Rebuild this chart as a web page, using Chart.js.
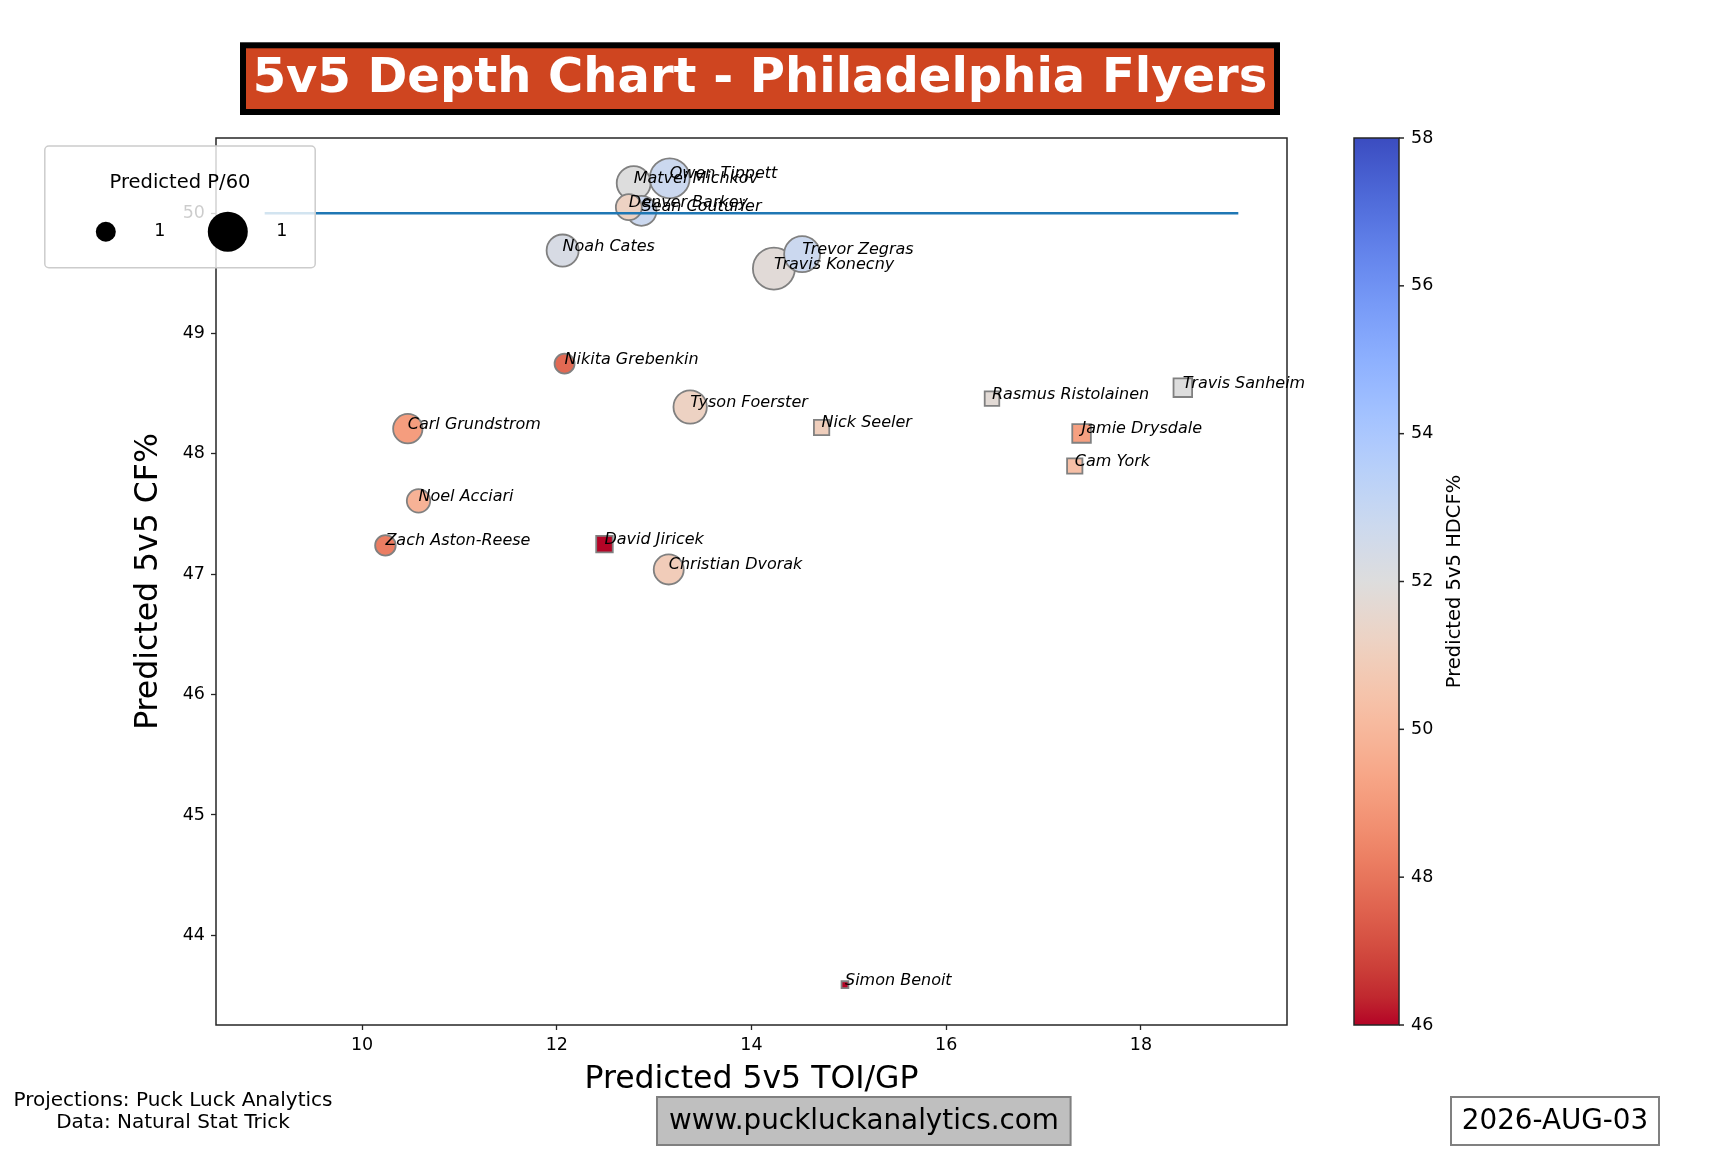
<!DOCTYPE html>
<html>
<head>
<meta charset="utf-8">
<title>5v5 Depth Chart - Philadelphia Flyers</title>
<script src="https://cdn.jsdelivr.net/npm/chart.js@4.4.0/dist/chart.umd.min.js"></script>
<style>
  html, body { margin: 0; padding: 0; background: #fff; }
  #wrap { width: 1728px; height: 1152px; }
</style>
</head>
<body>
<div id="wrap"><canvas id="depthChart" width="1728" height="1152"></canvas></div>
<script>
/* ================= DATA ================= */
// forwards (circles), listed in drawing order
const forwardNames = ["Travis Konecny", "Trevor Zegras", "Matvei Michkov", "Owen Tippett",
  "Sean Couturier", "Denver Barkey", "Noah Cates", "Tyson Foerster", "Carl Grundstrom",
  "Nikita Grebenkin", "Christian Dvorak", "Noel Acciari", "Zach Aston-Reese"];
const forwardToi   = [14.23, 14.52, 12.79, 13.16, 12.87, 12.74, 12.06, 13.37, 10.47, 12.08, 13.15, 10.58, 10.24];
const forwardCf    = [49.54, 49.66, 50.25, 50.29, 50.02, 50.05, 49.69, 48.39, 48.21, 48.75, 47.04, 47.61, 47.24];
const forwardHdcf  = [51.8, 52.8, 52.0, 52.8, 52.8, 51.2, 52.3, 51.2, 49.1, 47.7, 50.9, 49.8, 48.2];
const forwardP60   = [2.25, 1.65, 1.47, 2.04, 1.15, 0.86, 1.31, 1.42, 1.10, 0.51, 1.15, 0.70, 0.54];

// defence (squares)
const defenceNames = ["Travis Sanheim", "Rasmus Ristolainen", "Jamie Drysdale", "Nick Seeler",
  "Cam York", "David Jiricek", "Simon Benoit"];
const defenceToi   = [18.43, 16.47, 17.39, 14.72, 17.32, 12.49, 14.96];
const defenceCf    = [48.55, 48.46, 48.17, 48.22, 47.90, 47.25, 43.59];
const defenceHdcf  = [52.0, 51.75, 49.2, 51.0, 50.3, 45.8, 46.0];
const defenceP60   = [0.44, 0.27, 0.44, 0.30, 0.30, 0.35, 0.06];

// reference line at 50 CF%
const refLineX = [9, 19];
const refLineY = [50, 50];

const xTicks = [10, 12, 14, 16, 18];
const yTicks = [44, 45, 46, 47, 48, 49, 50];
const cbarTicks = [46, 48, 50, 52, 54, 56, 58];
const cbarMin = 46;
const cbarMax = 58;

const legendTitle = "Predicted P/60";
const legendLabels = ["1", "1"];
const footerLeft = ["Projections: Puck Luck Analytics", "Data: Natural Stat Trick"];
const siteText = "www.puckluckanalytics.com";
const dateText = "2026-AUG-03";

/* ================= COLOURMAP (coolwarm) ================= */
const coolwarm = [
  [59,76,192],[68,90,204],[77,104,215],[87,117,225],[98,130,234],[108,142,241],[119,154,247],
  [130,165,251],[141,176,254],[152,185,255],[163,194,255],[174,201,253],[184,208,249],
  [194,213,244],[204,217,238],[213,219,230],[221,221,221],[229,216,209],[236,211,197],
  [241,204,184],[245,196,172],[247,187,160],[247,177,148],[247,166,135],[244,154,123],
  [241,141,111],[236,127,99],[229,112,88],[222,96,77],[213,80,66],[203,62,56],[192,40,47],[180,4,38]
];

function coolwarmAt(t) {
  t = Math.min(1, Math.max(0, t));
  const f = t * (coolwarm.length - 1);
  const i = Math.min(coolwarm.length - 2, Math.floor(f));
  const r = f - i;
  const c = coolwarm[i].map((v, k) => Math.round(v + (coolwarm[i + 1][k] - v) * r));
  return `rgb(${c[0]},${c[1]},${c[2]})`;
}

// reversed map: low HDCF = red, high = blue
function hdcfColor(v) {
  return coolwarmAt(1 - (v - cbarMin) / (cbarMax - cbarMin));
}

// marker half-size in px from P/60
function markerSize(p) {
  return 14 * Math.sqrt(p);
}

/* ================= AXIS LIMITS (5% margins) ================= */
const allX = [...forwardToi, ...defenceToi, ...refLineX];
const allY = [...forwardCf, ...defenceCf, ...refLineY];
const xLo = Math.min(...allX), xHi = Math.max(...allX);
const yLo = Math.min(...allY), yHi = Math.max(...allY);
const xPad = (xHi - xLo) * 0.05, yPad = (yHi - yLo) * 0.05;

/* ================= PLUGINS ================= */
const frameAndNames = {
  id: "frameAndNames",
  afterDatasetsDraw(chart) {
    const { ctx, chartArea: a } = chart;
    ctx.save();
    ctx.strokeStyle = "#262626";
    ctx.lineWidth = 1.5;
    ctx.strokeRect(a.left, a.top, a.right - a.left, a.bottom - a.top);

    ctx.font = "italic 16px 'DejaVu Sans'";
    ctx.fillStyle = "#000";
    ctx.textAlign = "left";
    ctx.textBaseline = "alphabetic";
    [[0, forwardNames], [1, defenceNames]].forEach(([di, names]) => {
      chart.getDatasetMeta(di).data.forEach((pt, i) => {
        ctx.fillText(names[i], pt.x, pt.y);
      });
    });
    ctx.restore();
  }
};

const decorations = {
  id: "decorations",
  afterDraw(chart) {
    const { ctx, chartArea: a } = chart;
    ctx.save();

    // title box
    ctx.fillStyle = "#cf4520";
    ctx.fillRect(243, 45.3, 1034, 66.7);
    ctx.strokeStyle = "#000";
    ctx.lineWidth = 6;
    ctx.strokeRect(243, 45.3, 1034, 66.7);
    ctx.fillStyle = "#fff";
    ctx.font = "bold 48px 'DejaVu Sans'";
    ctx.textAlign = "center";
    ctx.textBaseline = "alphabetic";
    ctx.fillText("5v5 Depth Chart - Philadelphia Flyers", 760, 92);

    // colourbar
    const cx0 = 1354, cx1 = 1399;
    const grad = ctx.createLinearGradient(0, a.top, 0, a.bottom);
    coolwarm.forEach((c, i) => grad.addColorStop(i / (coolwarm.length - 1), `rgb(${c[0]},${c[1]},${c[2]})`));
    ctx.fillStyle = grad;
    ctx.fillRect(cx0, a.top, cx1 - cx0, a.bottom - a.top);
    ctx.strokeStyle = "#262626";
    ctx.lineWidth = 1.5;
    ctx.strokeRect(cx0, a.top, cx1 - cx0, a.bottom - a.top);
    ctx.font = "17.5px 'DejaVu Sans'";
    ctx.fillStyle = "#000";
    ctx.textAlign = "left";
    ctx.textBaseline = "middle";
    cbarTicks.forEach(v => {
      const y = a.bottom - (v - cbarMin) / (cbarMax - cbarMin) * (a.bottom - a.top);
      ctx.beginPath();
      ctx.moveTo(cx1, y);
      ctx.lineTo(cx1 + 5, y);
      ctx.stroke();
      ctx.fillText(String(v), cx1 + 12, y);
    });
    ctx.save();
    ctx.translate(1455, (a.top + a.bottom) / 2);
    ctx.rotate(-Math.PI / 2);
    ctx.textAlign = "center";
    ctx.font = "19.5px 'DejaVu Sans'";
    ctx.fillText("Predicted 5v5 HDCF%", 0, 0);
    ctx.restore();

    // size legend
    ctx.beginPath();
    ctx.roundRect(44.8, 146, 270.4, 121.7, 4);
    ctx.fillStyle = "rgba(255,255,255,0.8)";
    ctx.fill();
    ctx.strokeStyle = "#cccccc";
    ctx.lineWidth = 1.5;
    ctx.stroke();
    ctx.fillStyle = "#000";
    ctx.textAlign = "center";
    ctx.textBaseline = "middle";
    ctx.font = "19.5px 'DejaVu Sans'";
    ctx.fillText(legendTitle, 180, 183);
    [[105.8, 10, 159.8], [227.8, 20, 281.8]].forEach(([mx, r, lx], i) => {
      ctx.beginPath();
      ctx.arc(mx, 231.7, r, 0, Math.PI * 2);
      ctx.fill();
      ctx.font = "17.5px 'DejaVu Sans'";
      ctx.fillText(legendLabels[i], lx, 231);
    });

    // footer
    ctx.font = "20px 'DejaVu Sans'";
    ctx.fillText(footerLeft[0], 173, 1101);
    ctx.fillText(footerLeft[1], 173, 1123);

    ctx.fillStyle = "#bfbfbf";
    ctx.fillRect(657, 1097, 413.6, 48);
    ctx.strokeStyle = "#808080";
    ctx.lineWidth = 2;
    ctx.strokeRect(657, 1097, 413.6, 48);
    ctx.fillStyle = "#000";
    ctx.font = "27.8px 'DejaVu Sans'";
    ctx.fillText(siteText, 864, 1122);

    ctx.fillStyle = "#fff";
    ctx.fillRect(1451, 1097, 208, 48);
    ctx.strokeRect(1451, 1097, 208, 48);
    ctx.fillStyle = "#000";
    ctx.fillText(dateText, 1555, 1122);

    ctx.restore();
  }
};

/* ================= CHART ================= */
Chart.defaults.font.family = "'DejaVu Sans'";
Chart.defaults.color = "#000";

const tickFont = { family: "'DejaVu Sans'", size: 17.5 };
const titleFont = { family: "'DejaVu Sans'", size: 31.5 };

new Chart(document.getElementById("depthChart"), {
  type: "scatter",
  data: {
    datasets: [
      {
        label: "Forwards",
        data: forwardToi.map((x, i) => ({ x, y: forwardCf[i] })),
        pointStyle: "circle",
        pointRadius: forwardP60.map(markerSize),
        backgroundColor: forwardHdcf.map(hdcfColor),
        borderColor: "#808080",
        borderWidth: 1.8,
        order: 2
      },
      {
        label: "Defence",
        data: defenceToi.map((x, i) => ({ x, y: defenceCf[i] })),
        pointStyle: "rect",
        pointRadius: defenceP60.map(p => markerSize(p) / Math.SQRT1_2),
        backgroundColor: defenceHdcf.map(hdcfColor),
        borderColor: "#808080",
        borderWidth: 1.8,
        order: 1
      },
      {
        type: "line",
        label: "50%",
        data: refLineX.map((x, i) => ({ x, y: refLineY[i] })),
        borderColor: "#1f77b4",
        borderWidth: 2.5,
        pointRadius: 0,
        fill: false,
        order: 0
      }
    ]
  },
  options: {
    responsive: false,
    devicePixelRatio: 1,
    animation: false,
    events: [],
    layout: { padding: { left: 130, top: 138, right: 441, bottom: 53.5 } },
    plugins: {
      legend: { display: false },
      tooltip: { enabled: false },
      title: { display: false }
    },
    scales: {
      x: {
        type: "linear",
        min: xLo - xPad,
        max: xHi + xPad,
        afterBuildTicks: s => { s.ticks = xTicks.map(v => ({ value: v })); },
        afterFit: s => { s.height = 73.5; },
        ticks: { font: tickFont, color: "#000", padding: 5, maxRotation: 0 },
        grid: { display: true, drawOnChartArea: false, tickLength: 5, tickColor: "#262626", tickWidth: 1.3 },
        border: { display: false },
        title: { display: true, text: "Predicted 5v5 TOI/GP", font: titleFont, color: "#000", padding: 0 }
      },
      y: {
        type: "linear",
        min: yLo - yPad,
        max: yHi + yPad,
        afterBuildTicks: s => { s.ticks = yTicks.map(v => ({ value: v })); },
        afterFit: s => { s.width = 86; },
        ticks: { font: tickFont, color: "#000", padding: 6 },
        grid: { display: true, drawOnChartArea: false, tickLength: 5, tickColor: "#262626", tickWidth: 1.3 },
        border: { display: false },
        title: { display: true, text: "Predicted 5v5 CF%", font: titleFont, color: "#000", padding: 0 }
      }
    }
  },
  plugins: [frameAndNames, decorations]
});
</script>
</body>
</html>
